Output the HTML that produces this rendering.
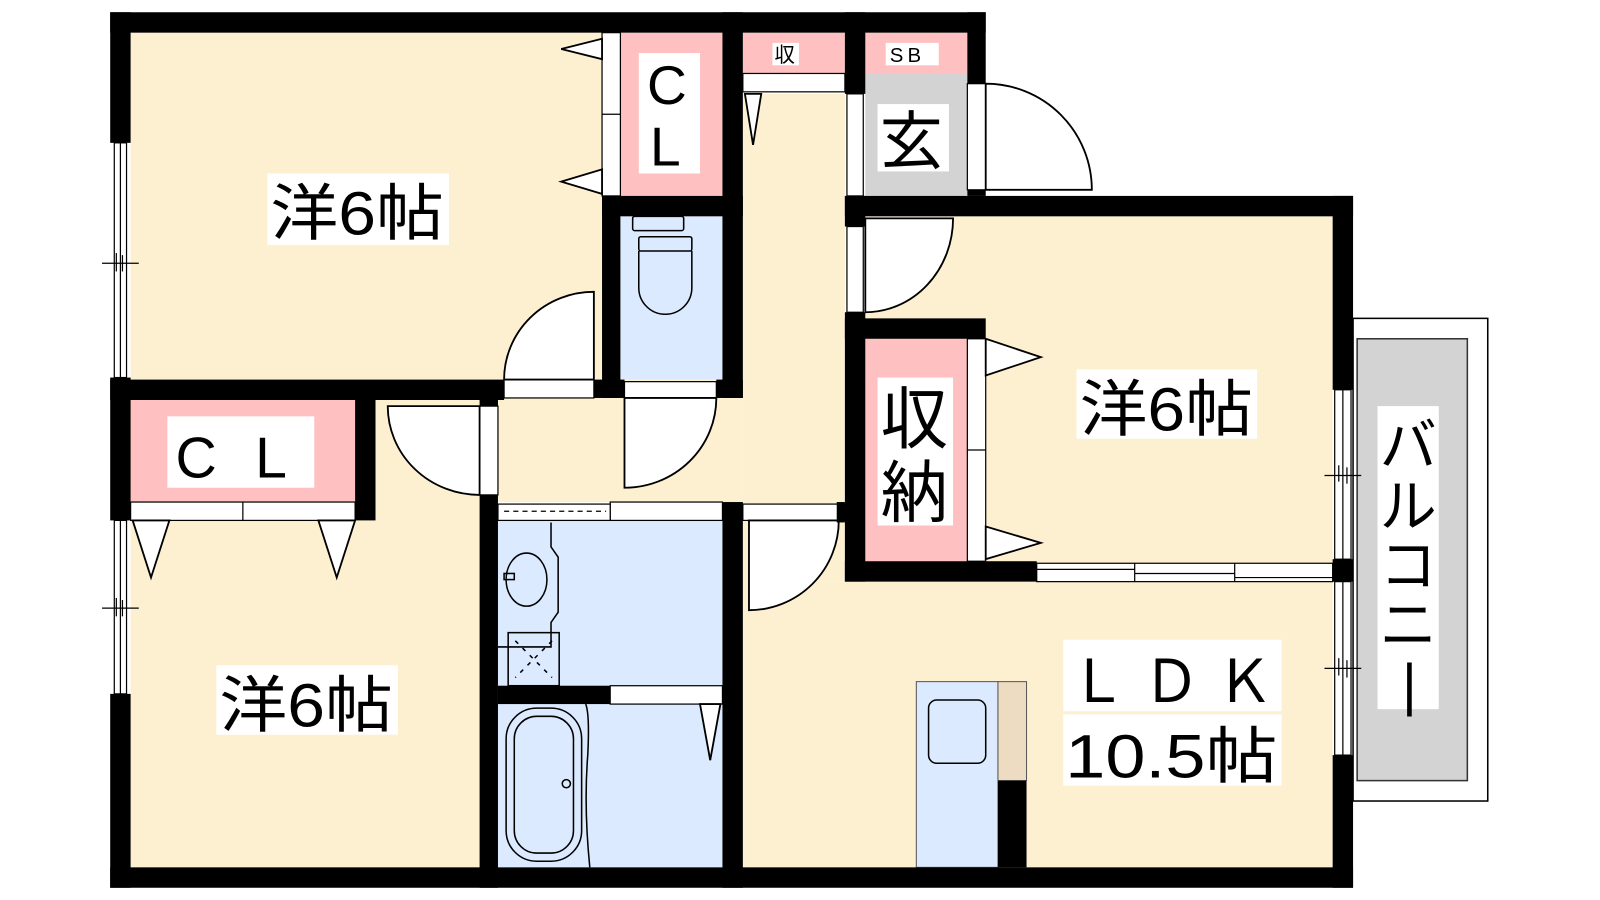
<!DOCTYPE html>
<html><head><meta charset="utf-8"><style>
html,body{margin:0;padding:0;background:#fff;}
svg{display:block;}
text{font-family:"Liberation Sans","Noto Sans CJK JP",sans-serif;fill:#000;}
</style></head><body>
<svg width="1600" height="900" viewBox="0 0 1568 882" preserveAspectRatio="none" xmlns="http://www.w3.org/2000/svg">
<rect width="1568" height="882" fill="#fff"/>
<!-- room fills -->
<g stroke="none">
<rect x="128" y="32" width="462" height="340" fill="#fdf0d0"/>
<rect x="128" y="392" width="342" height="458" fill="#fdf0d0"/>
<rect x="488" y="372" width="240" height="120" fill="#fdf0d0"/>
<rect x="728" y="92" width="100" height="478" fill="#fdf0d0"/>
<rect x="848" y="212" width="458" height="340" fill="#fdf0d0"/>
<rect x="728" y="570" width="578" height="280" fill="#fdf0d0"/>
<rect x="608" y="32" width="100" height="160" fill="#fec0c0"/>
<rect x="728" y="32" width="100" height="40" fill="#fec0c0"/>
<rect x="848" y="32" width="100" height="40" fill="#fec0c0"/>
<rect x="848" y="72" width="100" height="120" fill="#d3d3d3"/>
<rect x="848" y="332" width="100" height="218" fill="#fec0c0"/>
<rect x="128" y="392" width="220" height="100" fill="#fec0c0"/>
<rect x="608" y="212" width="100" height="160" fill="#dbeafe"/>
<rect x="488" y="510" width="220" height="162" fill="#dbeafe"/>
<rect x="488" y="690" width="220" height="160" fill="#dbeafe"/>
<rect x="898" y="668" width="80" height="182" fill="#dbeafe" stroke="#555" stroke-width="1"/>
<rect x="978" y="668" width="28" height="97" fill="#eedcc2" stroke="#555" stroke-width="1"/>
</g>
<!-- balcony -->
<rect x="1326" y="312" width="132" height="473" fill="#fff" stroke="#000" stroke-width="1.5"/>
<rect x="1330" y="332" width="108" height="433" fill="#d3d3d3" stroke="#333" stroke-width="1.5"/>
<!-- white door/window strips -->
<g fill="#fff" stroke="#000" stroke-width="1.2">
<rect x="112" y="140" width="12" height="230"/>
<rect x="112" y="510" width="12" height="170"/>
<rect x="590" y="32" width="18" height="160"/>
<line x1="590" y1="112" x2="608" y2="112"/>
<rect x="728" y="72" width="100" height="18"/>
<rect x="830" y="92" width="16" height="100"/>
<rect x="948" y="82" width="18" height="104"/>
<rect x="830" y="222" width="16" height="84"/>
<rect x="948" y="332" width="18" height="218"/>
<line x1="948" y1="441" x2="966" y2="441"/>
<rect x="128" y="492" width="220" height="18"/>
<line x1="238" y1="492" x2="238" y2="510"/>
<rect x="494" y="372" width="88" height="18"/>
<rect x="612" y="374" width="90" height="16"/>
<rect x="470" y="398" width="18" height="87"/>
<rect x="598" y="492" width="110" height="18"/>
<rect x="488" y="494" width="110" height="16"/>
<rect x="598" y="672" width="110" height="18"/>
<rect x="728" y="494" width="100" height="16"/>
<rect x="1016" y="552" width="290" height="18"/>
<rect x="1308" y="382" width="16" height="166"/>
<rect x="1308" y="570" width="16" height="170"/>
</g>
<g stroke="#000" stroke-width="1.2" fill="none">
<line x1="118" y1="140" x2="118" y2="370"/><line x1="100" y1="258" x2="136" y2="258"/><line x1="114" y1="248" x2="114" y2="266"/><line x1="120" y1="250" x2="120" y2="266"/>
<line x1="118" y1="510" x2="118" y2="680"/><line x1="100" y1="596" x2="136" y2="596"/><line x1="114" y1="586" x2="114" y2="604"/><line x1="120" y1="588" x2="120" y2="604"/>
<line x1="1316" y1="382" x2="1316" y2="548"/><line x1="1298" y1="466" x2="1334" y2="466"/><line x1="1312" y1="456" x2="1312" y2="472"/><line x1="1320" y1="458" x2="1320" y2="474"/>
<line x1="1316" y1="570" x2="1316" y2="740"/><line x1="1298" y1="655" x2="1334" y2="655"/><line x1="1312" y1="645" x2="1312" y2="662"/><line x1="1320" y1="647" x2="1320" y2="664"/>
<line x1="1016" y1="558" x2="1112" y2="558"/><line x1="1112" y1="562" x2="1210" y2="562"/><line x1="1210" y1="566" x2="1306" y2="566"/>
<line x1="1112" y1="552" x2="1112" y2="570"/><line x1="1210" y1="552" x2="1210" y2="570"/>
<line x1="494" y1="501" x2="594" y2="501" stroke-dasharray="5,4"/>
</g>
<!-- door arcs -->
<g fill="#fff" stroke="#000" stroke-width="1.8">
<path d="M966 186 L966 82 A104 104 0 0 1 1070 186 Z"/>
<path d="M848 306 L848 214 L934 214 A86 92 0 0 1 848 306 Z"/>
<path d="M582 372 L582 286 A88 86 0 0 0 494 372 Z"/>
<path d="M612 390 L702 390 A90 88 0 0 1 612 478 Z"/>
<path d="M470 398 L380 398 A90 87 0 0 0 470 485 Z"/>
<path d="M734 510 L822 510 A88 88 0 0 1 734 598 Z"/>
<!-- sliding door triangles -->
<path d="M590 38 L550 48 L590 58 Z"/>
<path d="M590 166 L550 178 L590 190 Z"/>
<path d="M730 92 L738 142 L746 92 Z"/>
<path d="M966 332 L1020 350 L966 368 Z"/>
<path d="M966 516 L1020 532 L966 548 Z"/>
<path d="M130 510 L148 566 L166 510 Z"/>
<path d="M312 510 L330 566 L348 510 Z"/>
<path d="M686 690 L696 745 L706 690 Z"/>
</g>
<!-- fixtures -->
<g fill="none" stroke="#000" stroke-width="1.5">
<rect x="620" y="212" width="50" height="14" rx="2"/>
<rect x="626" y="232" width="52" height="14" rx="2"/>
<path d="M626 246 L626 282 A26 26 0 0 0 678 282 L678 246"/>
<path d="M488 634 L540 634 L540 610 L547 600 L547 546 L540 536 L540 512"/>
<ellipse cx="516" cy="568" rx="20" ry="26"/>
<rect x="494" y="562" width="10" height="6"/>
<rect x="498" y="620" width="50" height="52"/>
<path d="M505 628 L541 664 M541 628 L505 664" stroke-dasharray="4,6"/>
<rect x="496" y="694" width="74" height="150" rx="30"/>
<rect x="504" y="702" width="58" height="134" rx="22"/>
<circle cx="555" cy="768" r="4"/>
<path d="M574 690 Q578 700 576 740 Q572 790 578 850"/>
<rect x="910" y="686" width="56" height="62" rx="8"/>
</g>
<!-- walls -->
<g fill="#000">
<rect x="108" y="12" width="858" height="20"/>
<rect x="108" y="12" width="20" height="128"/>
<rect x="108" y="370" width="20" height="140"/>
<rect x="108" y="680" width="20" height="190"/>
<rect x="108" y="850" width="1218" height="20"/>
<rect x="708" y="12" width="20" height="378"/>
<rect x="590" y="192" width="138" height="20"/>
<rect x="590" y="192" width="18" height="198"/>
<rect x="108" y="372" width="386" height="20"/>
<rect x="582" y="372" width="30" height="18"/>
<rect x="702" y="372" width="26" height="18"/>
<rect x="828" y="12" width="20" height="80"/>
<rect x="948" y="12" width="18" height="70"/>
<rect x="948" y="186" width="18" height="6"/>
<rect x="828" y="192" width="498" height="20"/>
<rect x="828" y="192" width="20" height="30"/>
<rect x="828" y="306" width="20" height="264"/>
<rect x="828" y="312" width="138" height="20"/>
<rect x="828" y="550" width="188" height="20"/>
<rect x="1306" y="192" width="20" height="190"/>
<rect x="1306" y="548" width="20" height="22"/>
<rect x="1306" y="740" width="20" height="130"/>
<rect x="348" y="392" width="20" height="118"/>
<rect x="470" y="392" width="18" height="6"/>
<rect x="470" y="485" width="18" height="385"/>
<rect x="708" y="492" width="20" height="378"/>
<rect x="820" y="492" width="8" height="20"/>
<rect x="488" y="672" width="110" height="18"/>
<rect x="978" y="765" width="28" height="85"/>
</g>
<!-- labels -->
<g fill="#fff">
<rect x="262" y="170" width="178" height="70"/>
<rect x="212" y="652" width="178" height="68"/>
<rect x="1055" y="362" width="177" height="68"/>
<rect x="1042" y="627" width="214" height="70"/>
<rect x="1042" y="700" width="214" height="70"/>
<rect x="626" y="52" width="60" height="118"/>
<rect x="164" y="408" width="144" height="70"/>
<rect x="757" y="42" width="26" height="22"/>
<rect x="868" y="42" width="52" height="22"/>
<rect x="860" y="102" width="70" height="66"/>
<rect x="860" y="370" width="74" height="145"/>
<rect x="1350" y="398" width="60" height="297"/>
</g>
<g font-size="60">
<text x="265" y="230" textLength="170" lengthAdjust="spacingAndGlyphs">洋6帖</text>
<text x="215" y="712" textLength="170" lengthAdjust="spacingAndGlyphs">洋6帖</text>
<text x="1058" y="422" textLength="170" lengthAdjust="spacingAndGlyphs">洋6帖</text>
<text x="1048" y="688" font-size="58" textLength="200" lengthAdjust="spacingAndGlyphs">Ｌ Ｄ Ｋ</text>
<text x="1044" y="762" textLength="208" lengthAdjust="spacingAndGlyphs">10.5帖</text>
<text x="634" y="102" font-size="54">C</text>
<text x="637" y="162" font-size="54">L</text>
<text x="172" y="468" font-size="56">C</text>
<text x="250" y="468" font-size="56">L</text>
<text x="862" y="160" font-size="62">玄</text>
<text x="863" y="434" font-size="66">収</text>
<text x="863" y="506" font-size="66">納</text>
<text x="1352" y="456" font-size="56">バ</text>
<text x="1352" y="516" font-size="56">ル</text>
<text x="1352" y="574" font-size="56">コ</text>
<text x="1352" y="632" font-size="56">ニ</text>
<text x="1374" y="690" font-size="56">|</text>
</g>
<text x="759" y="61" font-size="20">収</text>
<text x="872" y="61" font-size="20" letter-spacing="4">SB</text>
</svg>
</body></html>
